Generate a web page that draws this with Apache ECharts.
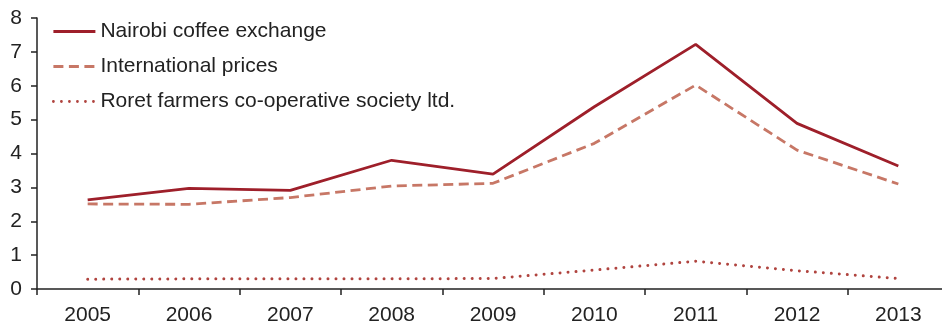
<!DOCTYPE html>
<html>
<head>
<meta charset="utf-8">
<script src="https://cdn.jsdelivr.net/npm/echarts@6/dist/echarts.min.js"></script>
<style>
  html, body { margin: 0; padding: 0; background: #fff; }
  #chart { width: 942px; height: 323px; }
</style>
</head>
<body>
<div id="chart"></div>
<script>
// categories and values
var years = ['2005', '2006', '2007', '2008', '2009', '2010', '2011', '2012', '2013'];
var nairobi = [2.63, 2.97, 2.91, 3.80, 3.39, 5.38, 7.22, 4.89, 3.63];
var international = [2.51, 2.50, 2.70, 3.04, 3.12, 4.30, 6.02, 4.10, 3.10];
var roret = [0.29, 0.30, 0.30, 0.30, 0.31, 0.56, 0.82, 0.54, 0.31];
var yTicks = [0, 1, 2, 3, 4, 5, 6, 7, 8];

var font = 'Liberation Sans, Arial, Helvetica, sans-serif';

var myChart = echarts.init(document.getElementById('chart'));
myChart.setOption({
  animation: false,
  textStyle: { fontFamily: font },
  legend: {
    orient: 'vertical',
    left: 52,
    top: 21,
    padding: 0,
    itemWidth: 42,
    itemHeight: 14,
    itemGap: 14,
    itemStyle: { opacity: 0 },
    lineStyle: { width: 2.8 },
    textStyle: { fontSize: 21, color: '#222', fontFamily: font },
    data: ['Nairobi coffee exchange', 'International prices', 'Roret farmers co-operative society ltd.']
  },
  grid: {
    left: 37,
    right: -7,
    top: 18,
    bottom: 34,
    outerBoundsMode: 'none'
  },
  xAxis: {
    type: 'category',
    data: years,
    boundaryGap: true,
    axisLine: { lineStyle: { color: '#222', width: 1.5 } },
    axisTick: { show: true, length: 6, lineStyle: { color: '#222', width: 1.5 } },
    axisLabel: { fontSize: 21, color: '#222', margin: 16, fontFamily: font }
  },
  yAxis: {
    type: 'value',
    min: yTicks[0],
    max: yTicks[yTicks.length - 1],
    interval: 1,
    splitLine: { show: false },
    axisLine: { show: true, lineStyle: { color: '#222', width: 1.5 } },
    axisTick: { show: true, length: 6, lineStyle: { color: '#222', width: 1.5 } },
    axisLabel: { fontSize: 21, color: '#222', margin: 15, fontFamily: font }
  },
  series: [
    {
      name: 'Nairobi coffee exchange',
      type: 'line',
      data: nairobi,
      symbol: 'none',
      lineStyle: { color: '#9e1f2a', width: 2.8 },
      itemStyle: { color: '#9e1f2a' }
    },
    {
      name: 'International prices',
      type: 'line',
      data: international,
      symbol: 'none',
      lineStyle: { color: '#c77766', width: 2.8, type: [10, 5.5] },
      itemStyle: { color: '#c77766' }
    },
    {
      name: 'Roret farmers co-operative society ltd.',
      type: 'line',
      data: roret,
      symbol: 'none',
      lineStyle: { color: '#b0443f', width: 3, type: [0.01, 8], cap: 'round' },
      itemStyle: { color: '#b0443f' }
    }
  ]
});
</script>
</body>
</html>
